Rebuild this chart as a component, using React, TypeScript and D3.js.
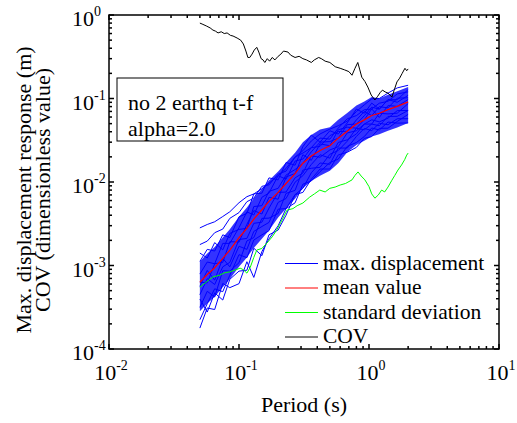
import React from 'react';
import * as d3 from 'd3';

// ---------- data ----------
const periods = [0.05, 0.057, 0.065, 0.075, 0.085, 0.1, 0.115, 0.13, 0.15, 0.17, 0.2, 0.23, 0.27, 0.31, 0.36, 0.42, 0.5, 0.58, 0.68, 0.8, 0.92, 1.05, 1.2, 1.4, 1.65, 2.0];

const meanValue = [6.3e-4, 7.8e-4, 9.4e-4, 1.22e-3, 1.53e-3, 2.15e-3, 2.78e-3, 3.6e-3, 4.65e-3, 5.85e-3, 7.5e-3, 9.6e-3, 1.26e-2, 1.68e-2, 2.05e-2, 2.38e-2, 2.72e-2, 3.35e-2, 4.05e-2, 4.95e-2, 5.55e-2, 6.25e-2, 6.65e-2, 7.35e-2, 8.05e-2, 9.1e-2];

const bandUpper = [1.12e-3, 1.39e-3, 1.67e-3, 2.17e-3, 2.72e-3, 3.83e-3, 4.95e-3, 6.4e-3, 8.28e-3, 1.04e-2, 1.34e-2, 1.71e-2, 2.24e-2, 2.99e-2, 3.65e-2, 4.24e-2, 4.52e-2, 5.56e-2, 6.72e-2, 8.22e-2, 9.21e-2, 0.104, 0.1, 0.111, 0.122, 0.137];
const bandLower = [2.84e-4, 3.51e-4, 4.23e-4, 5.49e-4, 6.89e-4, 9.68e-4, 1.25e-3, 1.62e-3, 2.09e-3, 2.63e-3, 3.75e-3, 4.8e-3, 6.3e-3, 8.4e-3, 1.03e-2, 1.19e-2, 1.36e-2, 1.68e-2, 2.27e-2, 2.77e-2, 3.11e-2, 3.5e-2, 3.72e-2, 4.12e-2, 4.51e-2, 5.1e-2];

const maxDispA = [2.82e-3, 3.1e-3, 3.34e-3, 3.86e-3, 4.4e-3, 5.65e-3, 6.67e-3, 7.2e-3, 8.3e-3, 9.7e-3, 1.19e-2, 1.45e-2, 1.99e-2, 2.37e-2, 3.1e-2, 3.76e-2, 4.3e-2, 4.72e-2, 5.35e-2, 6.98e-2, 8.4e-2, 9.9e-2, 0.1, 0.116, 0.134, 0.144];
const maxDispB = [1.78e-3, 1.96e-3, 2.47e-3, 2.73e-3, 3.67e-3, 4.3e-3, 5.81e-3, 6.41e-3, 8.88e-3, 9.24e-3, 1.245e-2, 1.35e-2, 1.99e-2, 2.22e-2, 2.58e-2, 3.36e-2, 3.26e-2, 4.42e-2, 5.71e-2, 6.24e-2, 7.33e-2, 7.5e-2, 8.78e-2, 9.26e-2, 0.1135, 0.12];
const maxDispC = [1.12e-3, 1.56e-3, 1.49e-3, 2.33e-3, 2.16e-3, 3.83e-3, 4.2e-3, 7.2e-3, 7.35e-3, 1.12e-2, 1.06e-2, 1.71e-2, 1.59e-2, 2.65e-2, 3.65e-2, 3.0e-2, 4.11e-2, 3.75e-2, 5.1e-2, 7.47e-2, 6.66e-2, 8.81e-2, 7.45e-2, 9.7e-2, 9.02e-2, 0.109];
const maxDispD = [7.9e-4, 1.1e-3, 1.05e-3, 1.84e-3, 1.84e-3, 2.84e-3, 4.39e-3, 4.03e-3, 6.56e-3, 7.37e-3, 1.19e-2, 1.08e-2, 1.78e-2, 1.88e-2, 2.58e-2, 2.67e-2, 3.59e-2, 4.02e-2, 4.05e-2, 5.54e-2, 6.99e-2, 6.25e-2, 7.98e-2, 7.72e-2, 0.101, 0.102];
const maxDispE = [6.3e-4, 6.2e-4, 1.05e-3, 1.09e-3, 1.93e-3, 1.91e-3, 3.11e-3, 4.54e-3, 4.14e-3, 6.55e-3, 6.23e-3, 1.15e-2, 1.26e-2, 2.12e-2, 1.82e-2, 2.86e-2, 2.72e-2, 4.22e-2, 4.54e-2, 4.41e-2, 5.55e-2, 7.5e-2, 5.92e-2, 8.23e-2, 8.05e-2, 9.74e-2];
const maxDispF = [4.47e-4, 6.94e-4, 5.92e-4, 9.64e-4, 1.09e-3, 2.05e-3, 2.11e-3, 3.2e-3, 3.3e-3, 4.86e-3, 7.5e-3, 7.58e-3, 1.12e-2, 1.28e-2, 2.05e-2, 1.98e-2, 2.42e-2, 2.65e-2, 3.87e-2, 4.11e-2, 4.94e-2, 4.94e-2, 6.65e-2, 6.54e-2, 6.68e-2, 8.69e-2];
const maxDispG = [3.15e-4, 4.91e-4, 4.2e-4, 8.66e-4, 8.57e-4, 1.08e-3, 1.97e-3, 2.16e-3, 3.67e-3, 3.69e-3, 4.2e-3, 7.3e-3, 7.94e-3, 1.39e-2, 1.46e-2, 1.5e-2, 2.15e-2, 2.38e-2, 3.08e-2, 4.41e-2, 4.22e-2, 4.94e-2, 4.72e-2, 6.1e-2, 6.12e-2, 7.19e-2];
const maxDispH = [2.24e-4, 3.49e-4, 5.26e-4, 4.86e-4, 7.65e-4, 1.35e-3, 1.24e-3, 2.02e-3, 2.33e-3, 2.61e-3, 4.73e-3, 4.8e-3, 7.06e-3, 8.4e-3, 1.29e-2, 1.69e-2, 1.63e-2, 2.55e-2, 2.55e-2, 3.51e-2, 4.38e-2, 4.13e-2, 5.05e-2, 4.85e-2, 5.72e-2, 5.73e-2];
const maxDispI = [1.78e-4, 3.1e-4, 2.97e-4, 6.1e-4, 5.43e-4, 6.06e-4, 1.11e-3, 7.2e-4, 1.47e-3, 2.08e-3, 2.99e-3, 4.8e-3, 5.63e-3, 9.41e-3, 1.03e-2, 1.33e-2, 1.71e-2, 1.88e-2, 2.67e-2, 2.97e-2, 3.5e-2, 4.44e-2, 4.19e-2, 5.22e-2, 5.07e-2, 5.1e-2];
const maxDispJ = [3.97e-4, 2.77e-4, 4.7e-4, 3.86e-4, 6.84e-4, 8.56e-4, 8.78e-4, 1.61e-3, 1.31e-3, 2.33e-3, 2.66e-3, 4.0e-3, 7.06e-3, 7.51e-3, 1.08e-2, 1.43e-2, 1.43e-2, 2.11e-2, 2.27e-2, 2.6e-2, 3.33e-2, 3.5e-2, 4.39e-2, 4.41e-2, 5.31e-2, 6.46e-2];
const maxDispK = [1.41e-3, 1.23e-3, 1.88e-3, 1.54e-3, 2.42e-3, 2.71e-3, 2.78e-3, 5.08e-3, 5.21e-3, 7.72e-3, 8.4e-3, 1.21e-2, 1.41e-2, 1.68e-2, 2.3e-2, 3.0e-2, 3.05e-2, 3.35e-2, 4.86e-2, 4.95e-2, 6.22e-2, 7.88e-2, 7.45e-2, 9.7e-2, 9.66e-2, 0.128];
const maxDispL = [5.61e-4, 8.74e-4, 6.67e-4, 1.22e-3, 9.64e-4, 1.7e-3, 1.56e-3, 2.56e-3, 2.93e-3, 3.28e-3, 5.7e-3, 6.34e-3, 9.95e-3, 1.19e-2, 1.62e-2, 2.12e-2, 1.93e-2, 2.98e-2, 3.2e-2, 3.76e-2, 4.94e-2, 5.56e-2, 5.25e-2, 5.81e-2, 7.16e-2, 7.19e-2];

const maxDispCurves = [maxDispA, maxDispB, maxDispC, maxDispD, maxDispE, maxDispF, maxDispG, maxDispH, maxDispI, maxDispJ, maxDispK, maxDispL];

const stdPeriods = [0.05, 0.055, 0.063, 0.07, 0.078, 0.085, 0.095, 0.102, 0.108, 0.115, 0.122, 0.13, 0.137, 0.15, 0.164, 0.18, 0.195, 0.21, 0.234, 0.26, 0.28, 0.31, 0.35, 0.38, 0.418, 0.46, 0.5, 0.549, 0.6, 0.66, 0.74, 0.78, 0.823, 0.87, 0.93, 1.0, 1.05, 1.11, 1.18, 1.25, 1.32, 1.4, 1.5, 1.58, 1.67, 1.78, 1.88, 1.95, 2.0];
const stdValue = [5.5e-4, 6.2e-4, 7.3e-4, 7.6e-4, 8.2e-4, 8.4e-4, 8.9e-4, 9.3e-4, 8.9e-4, 8.1e-4, 9.5e-4, 1.25e-3, 1.53e-3, 1.6e-3, 1.86e-3, 2.2e-3, 2.66e-3, 3.3e-3, 4.6e-3, 4.8e-3, 5.2e-3, 5.6e-3, 6.6e-3, 7.2e-3, 8.0e-3, 7.6e-3, 8.4e-3, 8.7e-3, 9.2e-3, 9.6e-3, 1.06e-2, 1.2e-2, 1.32e-2, 1.18e-2, 1.06e-2, 8.8e-3, 7.2e-3, 6.4e-3, 7.0e-3, 8.0e-3, 7.6e-3, 8.7e-3, 1.05e-2, 1.2e-2, 1.39e-2, 1.6e-2, 1.85e-2, 2.1e-2, 2.22e-2];

const covPeriods = [0.05, 0.052, 0.056, 0.06, 0.063, 0.066, 0.069, 0.073, 0.077, 0.081, 0.086, 0.09, 0.0967, 0.103, 0.108, 0.113, 0.117, 0.121, 0.126, 0.131, 0.137, 0.142, 0.148, 0.153, 0.158, 0.165, 0.172, 0.18, 0.189, 0.2, 0.21, 0.22, 0.238, 0.25, 0.27, 0.29, 0.31, 0.33, 0.36, 0.38, 0.41, 0.43, 0.46, 0.5, 0.55, 0.6, 0.65, 0.7, 0.74, 0.78, 0.82, 0.85, 0.88, 0.93, 0.98, 1.04, 1.11, 1.16, 1.22, 1.27, 1.33, 1.4, 1.45, 1.5, 1.56, 1.64, 1.72, 1.8, 1.89, 1.95, 2.0];
const covValue = [0.80, 0.78, 0.74, 0.70, 0.66, 0.64, 0.61, 0.63, 0.60, 0.61, 0.57, 0.56, 0.53, 0.50, 0.45, 0.37, 0.31, 0.31, 0.34, 0.38, 0.41, 0.36, 0.30, 0.29, 0.27, 0.30, 0.28, 0.31, 0.29, 0.32, 0.34, 0.37, 0.36, 0.33, 0.31, 0.32, 0.30, 0.29, 0.27, 0.29, 0.31, 0.30, 0.28, 0.27, 0.24, 0.23, 0.22, 0.21, 0.19, 0.23, 0.27, 0.22, 0.18, 0.16, 0.137, 0.11, 0.096, 0.105, 0.118, 0.126, 0.12, 0.116, 0.11, 0.104, 0.125, 0.158, 0.175, 0.2, 0.23, 0.215, 0.226];

const xTickExps = [-2, -1, 0, 1];
const yTickExps = [-4, -3, -2, -1, 0];

const legendLabels = ['max. displacement', 'mean value', 'standard deviation', 'COV'];
const legendColors = ['#0000ff', '#ff0000', '#00ff00', '#000000'];
const infoLines = ['no 2 earthq t-f', 'alpha=2.0'];

// ---------- layout ----------
const W = 517, H = 423;
const L = 109, R = 499, T = 15, B = 349;
const FONT = 'Liberation Serif';
const tf = { fontFamily: FONT };

export default function App() {
  const x = d3.scaleLog().domain([0.01, 10]).range([L, R]);
  const y = d3.scaleLog().domain([1e-4, 1]).range([B, T]);

  const line = (ps: number[], vs: number[]) =>
    d3.line<number>().x((_, i) => x(ps[i])).y((v) => y(v))(vs) || '';

  const band = d3.area<number>()
    .x((_, i) => x(periods[i]))
    .y0((_, i) => y(bandLower[i]))
    .y1((v) => y(v))(bandUpper) || '';

  const xMinor: number[] = [];
  for (const e of [-2, -1, 0]) for (let k = 2; k <= 9; k++) xMinor.push(k * Math.pow(10, e));
  const yMinor: number[] = [];
  for (const e of [-4, -3, -2, -1]) for (let k = 2; k <= 9; k++) yMinor.push(k * Math.pow(10, e));

  const majorLen = 5, minorLen = 3;
  const ticks: any[] = [];
  xTickExps.forEach((e) => {
    const px = x(Math.pow(10, e));
    ticks.push(<line key={'xb' + e} x1={px} x2={px} y1={B} y2={B - majorLen} />);
    ticks.push(<line key={'xt' + e} x1={px} x2={px} y1={T} y2={T + majorLen} />);
  });
  xMinor.forEach((v, i) => {
    const px = x(v);
    ticks.push(<line key={'xbm' + i} x1={px} x2={px} y1={B} y2={B - minorLen} />);
    ticks.push(<line key={'xtm' + i} x1={px} x2={px} y1={T} y2={T + minorLen} />);
  });
  yTickExps.forEach((e) => {
    const py = y(Math.pow(10, e));
    ticks.push(<line key={'yl' + e} x1={L} x2={L + majorLen} y1={py} y2={py} />);
    ticks.push(<line key={'yr' + e} x1={R} x2={R - majorLen} y1={py} y2={py} />);
  });
  yMinor.forEach((v, i) => {
    const py = y(v);
    ticks.push(<line key={'ylm' + i} x1={L} x2={L + minorLen} y1={py} y2={py} />);
    ticks.push(<line key={'yrm' + i} x1={R} x2={R - minorLen} y1={py} y2={py} />);
  });

  return (
    <svg width={W} height={H} style={{ position: 'absolute', left: 0, top: 0, background: '#fff' }}>
      <rect x={0} y={0} width={W} height={H} fill="#fff" />
      <defs>
        <clipPath id="plotclip"><rect x={L} y={T} width={R - L} height={B - T} /></clipPath>
      </defs>
      <g clipPath="url(#plotclip)">
        <path d={band} fill="#0000ff" fillOpacity={0.8} stroke="none" />
        {maxDispCurves.map((c, i) => (
          <path key={i} d={line(periods, c)} fill="none" stroke="#0000ff" strokeWidth={1} />
        ))}
        <path d={line(periods, meanValue)} fill="none" stroke="#ff0000" strokeWidth={1.2} />
        <path d={line(stdPeriods, stdValue)} fill="none" stroke="#00ff00" strokeWidth={1} />
        <path d={line(covPeriods, covValue)} fill="none" stroke="#000000" strokeWidth={1} />
      </g>

      {/* info box */}
      <rect x={117} y={78} width={166} height={63} fill="#fff" stroke="#000" strokeWidth={1} />
      {infoLines.map((t, i) => (
        <text key={t} x={128} y={110 + i * 26} fontSize={22} fill="#000" style={tf}>{t}</text>
      ))}

      {/* legend */}
      {legendLabels.map((lab, i) => {
        const ly = 263.5 + i * 24.5;
        return (
          <g key={lab}>
            <line x1={285} x2={318} y1={ly} y2={ly} stroke={legendColors[i]} strokeWidth={1} />
            <text x={323} y={ly + 6} fontSize={21.5} fill="#000" style={tf}>{lab}</text>
          </g>
        );
      })}

      {/* axes box */}
      <g stroke="#000" strokeWidth={1.5} fill="none">
        <rect x={L} y={T} width={R - L} height={B - T} />
        {ticks}
      </g>

      {/* x tick labels */}
      {xTickExps.map((e) => {
        const px = x(Math.pow(10, e));
        return (
          <text key={'xl' + e} x={px + 2} y={380} fontSize={22} textAnchor="middle" fill="#000" style={tf}>
            10<tspan dy={-10} fontSize={14}>{e < 0 ? '-' + Math.abs(e) : e}</tspan>
          </text>
        );
      })}
      {/* y tick labels */}
      {yTickExps.map((e) => {
        const py = y(Math.pow(10, e));
        return (
          <text key={'yl' + e} x={72} y={py + 11} fontSize={22} fill="#000" style={tf}>
            10<tspan dy={-10} fontSize={14}>{e < 0 ? '-' + Math.abs(e) : e}</tspan>
          </text>
        );
      })}

      <text x={(L + R) / 2} y={412} fontSize={22} textAnchor="middle" fill="#000" style={tf}>Period (s)</text>
      <text transform="translate(31,190) rotate(-90)" fontSize={22} textAnchor="middle" fill="#000" style={tf}>Max. displacement response (m)</text>
      <text transform="translate(50,190) rotate(-90)" fontSize={22} textAnchor="middle" fill="#000" style={tf}>COV (dimensionless value)</text>
    </svg>
  );
}
